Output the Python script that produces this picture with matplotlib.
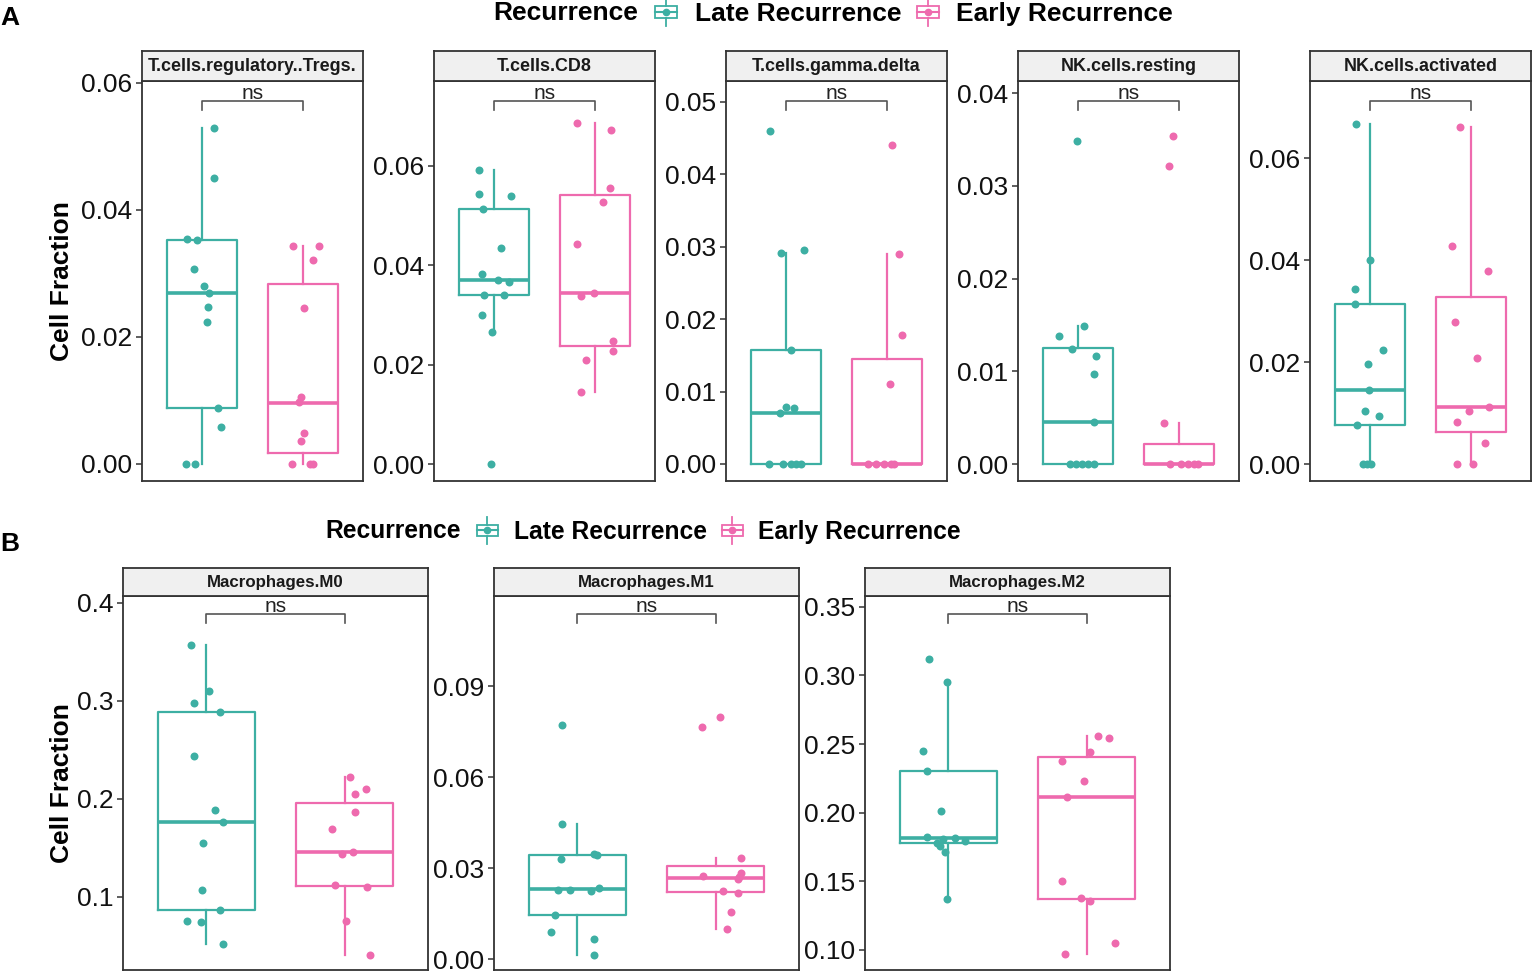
import matplotlib
matplotlib.use("Agg")
import matplotlib.pyplot as plt
import matplotlib.transforms as mtransforms
from matplotlib.legend_handler import HandlerBase
from matplotlib.patches import Rectangle
from matplotlib.lines import Line2D
import numpy as np

plt.rcParams['font.family'] = ['Liberation Sans', 'DejaVu Sans']

# ---------------- data ----------------
groups = ["Late Recurrence", "Early Recurrence"]
legend_title = "Recurrence"
colors = ["#3DAFA3", "#EE6AAE"]

# Panel A: T cells / NK cells
tregs_late = [0.0529, 0.0451, 0.0355, 0.0353, 0.0307, 0.0281, 0.0269, 0.0247, 0.0223, 0.0088, 0.0059, 0.0, 0.0]
tregs_late_jit = [0.12, 0.12, -0.15, -0.05, -0.08, 0.02, 0.07, 0.06, 0.05, 0.16, 0.19, -0.16, -0.07]
tregs_late_box = [0.0, 0.0088, 0.0269, 0.0353, 0.0529]
tregs_early = [0.0343, 0.0343, 0.0321, 0.0246, 0.0105, 0.0097, 0.0049, 0.0036, 0.0, 0.0, 0.0]
tregs_early_jit = [-0.10, 0.16, 0.10, 0.01, -0.02, -0.04, 0.01, -0.02, -0.11, 0.07, 0.10]
tregs_early_box = [0.0, 0.0017, 0.0096, 0.0283, 0.0343]

cd8_late = [0.0591, 0.0543, 0.0539, 0.0513, 0.0434, 0.0383, 0.0370, 0.0367, 0.0341, 0.0341, 0.0301, 0.0266, 0.0]
cd8_late_jit = [-0.15, -0.15, 0.17, -0.11, 0.07, -0.12, 0.04, 0.15, -0.10, 0.10, -0.12, -0.02, -0.03]
cd8_late_box = [0.0266, 0.0340, 0.0370, 0.0513, 0.0591]
cd8_early = [0.0686, 0.0673, 0.0555, 0.0528, 0.0442, 0.0344, 0.0339, 0.0248, 0.0228, 0.0210, 0.0145]
cd8_early_jit = [-0.18, 0.16, 0.15, 0.08, -0.18, -0.01, -0.14, 0.18, 0.18, -0.09, -0.14]
cd8_early_box = [0.0145, 0.0237, 0.0345, 0.0542, 0.0686]

gd_late = [0.0460, 0.0291, 0.0296, 0.0158, 0.0079, 0.0078, 0.0070, 0.0, 0.0, 0.0, 0.0, 0.0]
gd_late_jit = [-0.16, -0.05, 0.18, 0.05, 0.0, 0.08, -0.06, -0.17, -0.03, 0.05, 0.10, 0.15]
gd_late_box = [0.0, 0.0, 0.0070, 0.0158, 0.0291]
gd_early = [0.0441, 0.0290, 0.0178, 0.0110, 0.0, 0.0, 0.0, 0.0, 0.0]
gd_early_jit = [0.05, 0.12, 0.15, 0.03, -0.19, -0.11, -0.03, 0.04, 0.075]
gd_early_box = [0.0, 0.0, 0.0, 0.0145, 0.0290]

nkr_late = [0.0348, 0.0149, 0.0138, 0.0124, 0.0117, 0.0097, 0.0045, 0.0, 0.0, 0.0, 0.0, 0.0]
nkr_late_jit = [-0.01, 0.06, -0.19, -0.06, 0.18, 0.16, 0.16, -0.08, -0.02, 0.04, 0.10, 0.16]
nkr_late_box = [0.0, 0.0, 0.0045, 0.0125, 0.0149]
nkr_early = [0.0354, 0.0321, 0.0044, 0.0, 0.0, 0.0, 0.0, 0.0]
nkr_early_jit = [-0.06, -0.10, -0.15, -0.09, 0.02, 0.09, 0.15, 0.19]
nkr_early_box = [0.0, 0.0, 0.0, 0.0022, 0.0044]

nka_late = [0.0666, 0.0401, 0.0344, 0.0314, 0.0223, 0.0197, 0.0145, 0.0104, 0.0094, 0.0076, 0.0, 0.0, 0.0]
nka_late_jit = [-0.14, 0.0, -0.15, -0.15, 0.13, -0.02, -0.01, -0.05, 0.09, -0.13, -0.07, -0.03, 0.01]
nka_late_box = [0.0, 0.0076, 0.0145, 0.0314, 0.0666]
nka_early = [0.0661, 0.0427, 0.0378, 0.0279, 0.0209, 0.0112, 0.0104, 0.0082, 0.0041, 0.0, 0.0]
nka_early_jit = [-0.11, -0.19, 0.17, -0.16, 0.06, 0.18, -0.02, -0.14, 0.14, -0.14, 0.02]
nka_early_box = [0.0, 0.0063, 0.0112, 0.0328, 0.0661]

# Panel B: macrophages
m0_late = [0.3569, 0.3105, 0.2975, 0.2882, 0.2435, 0.1888, 0.1765, 0.1547, 0.1075, 0.0870, 0.0757, 0.0744, 0.0518]
m0_late_jit = [-0.11, 0.02, -0.09, 0.10, -0.09, 0.06, 0.12, -0.02, -0.03, 0.10, -0.14, -0.04, 0.12]
m0_late_box = [0.0518, 0.0870, 0.1769, 0.2882, 0.3569]
m0_early = [0.2220, 0.2104, 0.2049, 0.1864, 0.1694, 0.1454, 0.1441, 0.1126, 0.1099, 0.0757, 0.0412]
m0_early_jit = [0.04, 0.15, 0.07, 0.07, -0.09, 0.06, -0.02, -0.07, 0.16, 0.01, 0.18]
m0_early_box = [0.0412, 0.1109, 0.1454, 0.1957, 0.2220]

m1_late = [0.0771, 0.0444, 0.0331, 0.0346, 0.0343, 0.0235, 0.0227, 0.0227, 0.0226, 0.0144, 0.0089, 0.0066, 0.0015]
m1_late_jit = [-0.11, -0.11, -0.12, 0.12, 0.14, 0.16, -0.14, -0.05, 0.10, -0.16, -0.19, 0.12, 0.12]
m1_late_box = [0.0015, 0.0144, 0.0230, 0.0342, 0.0444]
m1_early = [0.0799, 0.0764, 0.0332, 0.0284, 0.0274, 0.0269, 0.0264, 0.0224, 0.0219, 0.0154, 0.0098]
m1_early_jit = [0.03, -0.10, 0.18, 0.18, -0.09, 0.17, 0.16, 0.05, 0.16, 0.11, 0.08]
m1_early_box = [0.0098, 0.0222, 0.0266, 0.0308, 0.0332]

m2_late = [0.3117, 0.2954, 0.2449, 0.2306, 0.2015, 0.1820, 0.1818, 0.1794, 0.1806, 0.1777, 0.1760, 0.1716, 0.1371]
m2_late_jit = [-0.14, -0.01, -0.18, -0.15, -0.05, -0.15, 0.05, 0.12, -0.04, -0.08, -0.06, -0.02, -0.01]
m2_late_box = [0.1371, 0.1777, 0.1813, 0.2306, 0.2954]
m2_early = [0.2561, 0.2546, 0.2439, 0.2374, 0.2228, 0.2114, 0.1500, 0.1376, 0.1354, 0.1051, 0.0973]
m2_early_jit = [0.08, 0.16, 0.02, -0.18, -0.02, -0.14, -0.18, -0.04, 0.02, 0.20, -0.16]
m2_early_box = [0.0973, 0.1369, 0.2114, 0.2405, 0.2561]

panel_titles_a = ["T.cells.regulatory..Tregs.", "T.cells.CD8", "T.cells.gamma.delta",
                  "NK.cells.resting", "NK.cells.activated"]
panel_titles_b = ["Macrophages.M0", "Macrophages.M1", "Macrophages.M2"]
sig_label = "ns"
ylabel = "Cell Fraction"

yticks_a = [[0, 0.02, 0.04, 0.06], [0, 0.02, 0.04, 0.06], [0, 0.01, 0.02, 0.03, 0.04, 0.05],
            [0, 0.01, 0.02, 0.03, 0.04], [0, 0.02, 0.04, 0.06]]
yticks_b = [[0.1, 0.2, 0.3, 0.4], [0.0, 0.03, 0.06, 0.09], [0.10, 0.15, 0.20, 0.25, 0.30, 0.35]]
ylims_a = [(-0.00268, 0.0603), (-0.0034, 0.0771), (-0.00235, 0.0529), (-0.00183, 0.0413), (-0.0033, 0.0751)]
ylims_b = [(0.0255, 0.407), (-0.0036, 0.1197), (0.0854, 0.3579)]
fmt_a = ["%.2f"] * 5
fmt_b = ["%.1f", "%.2f", "%.2f"]

panels_a = [
    ((tregs_late, tregs_late_jit, tregs_late_box), (tregs_early, tregs_early_jit, tregs_early_box)),
    ((cd8_late, cd8_late_jit, cd8_late_box), (cd8_early, cd8_early_jit, cd8_early_box)),
    ((gd_late, gd_late_jit, gd_late_box), (gd_early, gd_early_jit, gd_early_box)),
    ((nkr_late, nkr_late_jit, nkr_late_box), (nkr_early, nkr_early_jit, nkr_early_box)),
    ((nka_late, nka_late_jit, nka_late_box), (nka_early, nka_early_jit, nka_early_box)),
]
panels_b = [
    ((m0_late, m0_late_jit, m0_late_box), (m0_early, m0_early_jit, m0_early_box)),
    ((m1_late, m1_late_jit, m1_late_box), (m1_early, m1_early_jit, m1_early_box)),
    ((m2_late, m2_late_jit, m2_late_box), (m2_early, m2_early_jit, m2_early_box)),
]

# ---------------- figure ----------------
W, H = 1533, 972
fig = plt.figure(figsize=(W / 100, H / 100), dpi=100)
EDGE = "#333333"


def px_axes(x0, y0, x1, y1):
    return fig.add_axes([x0 / W, 1 - y1 / H, (x1 - x0) / W, (y1 - y0) / H])


def draw_panel(x0, x1, strip_top, top, bottom, title, groups_data, ylim, yticks, fmt,
               strip_size):
    ax = px_axes(x0, top, x1, bottom)
    sax = px_axes(x0, strip_top, x1, top)
    sax.set_facecolor("#F0F0F0")
    sax.set_xticks([]); sax.set_yticks([])
    for s in sax.spines.values():
        s.set_color(EDGE); s.set_linewidth(1.3)
    sax.text(0.5, 0.47, title, ha="center", va="center", fontsize=strip_size,
             fontweight="bold", transform=sax.transAxes, color="#1a1a1a")

    for i, ((vals, jit, box), c) in enumerate(zip(groups_data, colors)):
        pos = i + 1
        stats = [dict(whislo=box[0], q1=box[1], med=box[2], q3=box[3], whishi=box[4], fliers=[])]
        ax.bxp(stats, positions=[pos], widths=0.7, showfliers=False, showcaps=False,
               boxprops=dict(color=c, linewidth=1.6),
               whiskerprops=dict(color=c, linewidth=1.6),
               medianprops=dict(color=c, linewidth=2.6, solid_capstyle="butt"),
               manage_ticks=False)
        ax.scatter(pos + np.asarray(jit), vals, s=33, color=c, linewidths=0, zorder=3,
                   clip_on=False)

    ax.set_xlim(0.4, 2.6)
    ax.set_ylim(*ylim)
    ax.set_yticks(yticks)
    ax.set_yticklabels([fmt % t for t in yticks])
    ax.set_xticks([])
    ax.tick_params(axis="y", length=4, width=1.1, color=EDGE, labelsize=19, pad=3,
                   labelcolor="#111111")
    for s in ax.spines.values():
        s.set_color(EDGE); s.set_linewidth(1.3)

    tr = mtransforms.blended_transform_factory(ax.transData, ax.transAxes)
    ax.plot([1, 1, 2, 2], [0.928, 0.951, 0.951, 0.928], transform=tr, color="#555555",
            linewidth=1.2, clip_on=False)
    ax.text(1.5, 0.946, sig_label, transform=tr, ha="center", va="bottom", fontsize=15,
            color="#222222")
    return ax


# Panel A
lefts_a = [142, 434, 726, 1018, 1310]
for j, x0 in enumerate(lefts_a):
    draw_panel(x0, x0 + 221, 51, 81, 481, panel_titles_a[j], panels_a[j],
               ylims_a[j], yticks_a[j], fmt_a[j], 12.9)

# Panel B
lefts_b = [123, 494, 865]
for j, x0 in enumerate(lefts_b):
    draw_panel(x0, x0 + 305, 568, 596, 970, panel_titles_b[j], panels_b[j],
               ylims_b[j], yticks_b[j], fmt_b[j], 12.2)

# axis labels and panel letters
fig.text(62 / W, 1 - 281 / H, ylabel, rotation=90, ha="center", va="center",
         fontsize=19, fontweight="bold")
fig.text(62 / W, 1 - 783 / H, ylabel, rotation=90, ha="center", va="center",
         fontsize=19, fontweight="bold")
fig.text(0 / W, 1 - 18 / H, "A", ha="left", va="center", fontsize=19, fontweight="bold")
fig.text(0 / W, 1 - 544 / H, "B", ha="left", va="center", fontsize=19, fontweight="bold")


# legend with boxplot key glyph
class BoxKey(HandlerBase):
    def create_artists(self, legend, orig_handle, xdescent, ydescent, width, height,
                       fontsize, trans):
        c = orig_handle.get_color()
        x0 = -xdescent
        cy = -ydescent + height / 2
        bh = height * 0.62
        rect = Rectangle((x0, cy - bh / 2), width, bh, facecolor="white", edgecolor=c,
                         linewidth=1.3, transform=trans)
        wl1 = Line2D([x0 + width / 2] * 2, [cy + bh / 2, cy + height * 0.75], color=c,
                     linewidth=1.3, transform=trans)
        wl2 = Line2D([x0 + width / 2] * 2, [cy - bh / 2, cy - height * 0.75], color=c,
                     linewidth=1.3, transform=trans)
        med = Line2D([x0, x0 + width], [cy, cy], color=c, linewidth=1.5, transform=trans)
        dot = Line2D([x0 + width / 2], [cy], marker="o", markersize=4.5, color=c,
                     linestyle="none", transform=trans)
        return [rect, wl1, wl2, med, dot]


handles = [Line2D([], [], color=c) for c in colors]


def add_legend(title_x, key_x, yc, size):
    fig.text(title_x / W, 1 - yc / H, legend_title, ha="left", va="center",
             fontsize=size, fontweight="bold")
    fig.legend(handles, groups, handler_map={Line2D: BoxKey()}, ncol=2, frameon=False,
               loc="center left", bbox_to_anchor=(key_x / W, 1 - (yc + 1) / H),
               prop=dict(size=size, weight="bold"), borderpad=0, borderaxespad=0,
               handlelength=0.85, handleheight=0.75, handletextpad=0.65,
               columnspacing=0.6)


add_legend(493, 655, 13, 19)
add_legend(325, 477, 531, 17.7)

fig.savefig("out.png", dpi=100)
